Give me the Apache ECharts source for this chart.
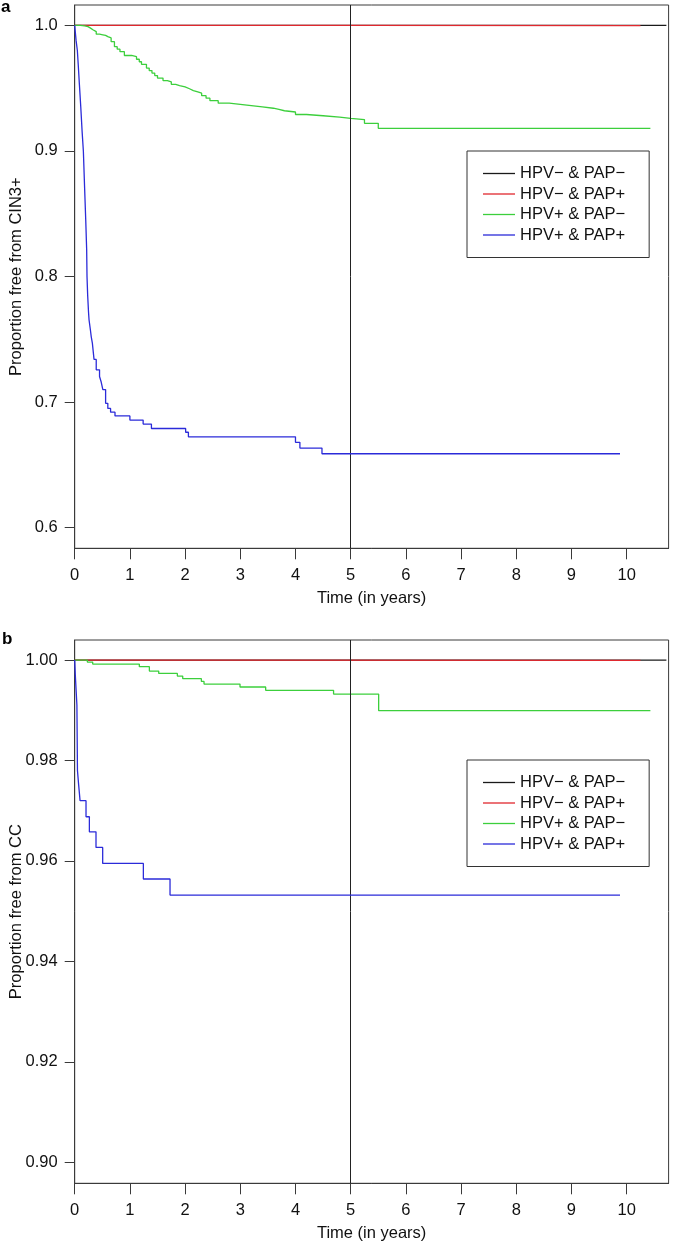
<!DOCTYPE html>
<html><head><meta charset="utf-8">
<script src="https://cdn.jsdelivr.net/npm/echarts@6/dist/echarts.min.js"></script>
<style>html,body{margin:0;padding:0;background:#fff}#c{width:680px;height:1243px}</style>
</head><body><div id="c"></div>
<script>
// ---- data ----
const seriesNames = ['HPV\u2212 & PAP\u2212', 'HPV\u2212 & PAP+', 'HPV+ & PAP\u2212', 'HPV+ & PAP+'];
const seriesColors = ['#1a1a1a', '#e0282e', '#3ccf3c', '#2b2bd9'];
const xTicks = [0, 1, 2, 3, 4, 5, 6, 7, 8, 9, 10];
const aYTicks = [0.6, 0.7, 0.8, 0.9, 1.0];
const bYTicks = [0.90, 0.92, 0.94, 0.96, 0.98, 1.00];
const refYear = 5;

// panel a: CIN3+
const aBlackT = [0, 10.72];
const aBlackS = [1.0, 1.0];
const aRedT = [0, 5.2, 10.25];
const aRedS = [1.0, 0.9998, 0.9998];
const aGreenT = [0, 0.1, 0.18, 0.24, 0.28, 0.33, 0.39, 0.45, 0.51, 0.56, 0.6, 0.66, 0.72, 0.77, 0.82, 0.9, 1.03, 1.12, 1.17, 1.21, 1.3, 1.35, 1.4, 1.45, 1.5, 1.6, 1.68, 1.75, 1.83, 1.9, 2.0, 2.08, 2.15, 2.23, 2.3, 2.38, 2.45, 2.6, 2.8, 3.0, 3.2, 3.4, 3.6, 3.7, 3.8, 4.0, 4.2, 4.5, 4.8, 5.0, 5.25, 5.5, 10.43];
const aGreenS = [1.0, 0.9995, 0.999, 0.998, 0.9965, 0.995, 0.993, 0.9925, 0.992, 0.991, 0.99, 0.987, 0.983, 0.981, 0.979, 0.976, 0.975, 0.973, 0.971, 0.969, 0.966, 0.964, 0.962, 0.96, 0.958, 0.956, 0.955, 0.953, 0.952, 0.951, 0.9495, 0.948, 0.947, 0.946, 0.944, 0.942, 0.94, 0.938, 0.937, 0.936, 0.935, 0.934, 0.933, 0.932, 0.931, 0.929, 0.928, 0.927, 0.926, 0.925, 0.922, 0.918, 0.918];
const aBlueT = [0, 0.01, 0.025, 0.048, 0.065, 0.085, 0.11, 0.135, 0.157, 0.18, 0.2, 0.217, 0.223, 0.235, 0.25, 0.26, 0.284, 0.30, 0.32, 0.35, 0.39, 0.45, 0.48, 0.51, 0.56, 0.6, 0.65, 0.73, 1.0, 1.24, 1.39, 2.01, 2.06, 4.0, 4.08, 4.48, 9.88];
const aBlueS = [1.0, 0.995, 0.988, 0.98, 0.968, 0.953, 0.935, 0.915, 0.9, 0.87, 0.845, 0.821, 0.8, 0.785, 0.772, 0.7655, 0.7576, 0.752, 0.747, 0.734, 0.7257, 0.7204, 0.716, 0.71, 0.699, 0.695, 0.692, 0.689, 0.6857, 0.6825, 0.679, 0.676, 0.6724, 0.668, 0.6634, 0.6589, 0.6589];

// panel b: CC
const bBlackT = [0, 10.72];
const bBlackS = [1.0, 1.0];
const bRedT = [0, 1.45, 2.8, 10.25];
const bRedS = [1.0, 0.99998, 0.99995, 0.99995];
const bGreenT = [0, 0.229, 0.326, 1.171, 1.353, 1.522, 1.86, 1.957, 2.295, 2.343, 2.995, 3.46, 4.69, 5.507, 10.43];
const bGreenS = [1.0, 0.9996, 0.9992, 0.99868, 0.99781, 0.99735, 0.99682, 0.99629, 0.99576, 0.99523, 0.99464, 0.99397, 0.99324, 0.98993, 0.98993];
const bBlueT = [0, 0.012, 0.04, 0.05, 0.072, 0.097, 0.205, 0.266, 0.386, 0.507, 1.244, 1.727, 9.88];
const bBlueS = [1.0, 0.9968, 0.991, 0.978, 0.9751, 0.972, 0.9688, 0.9658, 0.9627, 0.9595, 0.9564, 0.9532, 0.9532];

// ---- build ----
const FONT = '"Liberation Sans", Arial, Helvetica, sans-serif';
const FS = 16.5;
const TXT = '#111';
const AX = '#3a3a3a';
const zip = (t, s) => t.map((v, i) => [v, s[i]]);

const panels = [
  { t: [aBlackT, aRedT, aGreenT, aBlueT], s: [aBlackS, aRedS, aGreenS, aBlueS] },
  { t: [bBlackT, bRedT, bGreenT, bBlueT], s: [bBlackS, bRedS, bGreenS, bBlueS] }
];

const series = [];
panels.forEach((p, pi) => {
  seriesNames.forEach((name, k) => {
    const sr = {
      name: name, type: 'line', step: 'end', symbol: 'none',
      xAxisIndex: pi, yAxisIndex: pi,
      data: zip(p.t[k], p.s[k]),
      lineStyle: { color: seriesColors[k], width: 1.3 },
      itemStyle: { color: seriesColors[k] },
      z: 2 + k, animation: false
    };
    if (k === 0) {
      sr.markLine = {
        silent: true, symbol: ['none', 'none'], label: { show: false },
        lineStyle: { color: '#222', width: 1, type: 'solid' },
        data: [{ xAxis: refYear }]
      };
    }
    series.push(sr);
  });
});

function xAxisFor(gi) {
  return {
    type: 'value', gridIndex: gi, min: 0, max: 10.76,
    name: 'Time (in years)', nameLocation: 'middle', nameGap: 42, nameMoveOverlap: false,
    nameTextStyle: { fontFamily: FONT, fontSize: FS, color: TXT },
    axisLine: { show: true, lineStyle: { color: AX, width: 1 } },
    axisTick: { show: true, inside: false, length: 11, customValues: xTicks, lineStyle: { color: AX } },
    axisLabel: { customValues: xTicks, margin: 19, fontFamily: FONT, fontSize: FS, color: TXT },
    splitLine: { show: false }
  };
}
function yAxisFor(gi, mn, mx, ticks, dec, name) {
  return {
    type: 'value', gridIndex: gi, min: mn, max: mx,
    name: name, nameLocation: 'middle', nameGap: 50, nameMoveOverlap: false,
    nameTextStyle: { fontFamily: FONT, fontSize: FS, color: TXT },
    axisLine: { show: true, lineStyle: { color: AX, width: 1 } },
    axisTick: { show: true, inside: false, length: 10, customValues: ticks, lineStyle: { color: AX } },
    axisLabel: { customValues: ticks, margin: 17, fontFamily: FONT, fontSize: FS, color: TXT,
      formatter: v => v.toFixed(dec) },
    splitLine: { show: false }
  };
}
function legendFor(top) {
  return {
    orient: 'vertical', left: 467, top: top,
    data: seriesNames, selectedMode: false,
    icon: 'path://M0,0 L32,0 L32,1.3 L0,1.3 Z',
    itemWidth: 32, itemHeight: 14, itemGap: 3.5,
    padding: [14, 24, 14, 16],
    borderColor: '#333', borderWidth: 1,
    textStyle: { fontFamily: FONT, fontSize: FS, color: TXT }
  };
}

const chart = echarts.init(document.getElementById('c'), null, { renderer: 'canvas' });
chart.setOption({
  animation: false,
  backgroundColor: '#fff',
  grid: [
    { left: 74.7, width: 593.9, top: 5, height: 543.3, show: true, borderColor: AX, borderWidth: 1, backgroundColor: 'transparent', containLabel: false, outerBoundsMode: 'none' },
    { left: 74.7, width: 593.9, top: 640, height: 543.3, show: true, borderColor: AX, borderWidth: 1, backgroundColor: 'transparent', containLabel: false, outerBoundsMode: 'none' }
  ],
  xAxis: [xAxisFor(0), xAxisFor(1)],
  yAxis: [
    yAxisFor(0, 0.5836, 1.0162, aYTicks, 1, 'Proportion free from CIN3+'),
    yAxisFor(1, 0.8958, 1.004, bYTicks, 2, 'Proportion free from CC')
  ],
  legend: [legendFor(151), legendFor(760)],
  graphic: [
    { type: 'text', left: 1, top: -1, style: { text: 'a', font: 'bold 17px ' + FONT, fill: '#000' } },
    { type: 'text', left: 2, top: 631, style: { text: 'b', font: 'bold 17px ' + FONT, fill: '#000' } }
  ],
  series: series
});
</script></body></html>
